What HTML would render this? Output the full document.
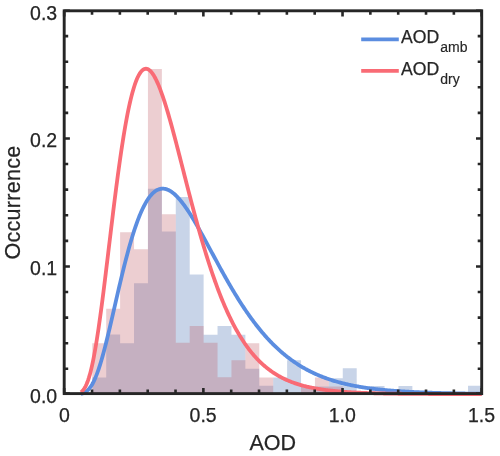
<!DOCTYPE html><html><head><meta charset="utf-8"><title>AOD histogram</title><style>html,body{margin:0;padding:0;background:#fff}svg{display:block}text{font-family:"Liberation Sans",Arial,Helvetica,sans-serif;fill:#262626;stroke:#262626;stroke-width:0.25px}</style></head><body>
<svg width="500" height="456" viewBox="0 0 500 456">
<rect width="500" height="456" fill="#fff"/>
<path d="M92.28 393.60L92.28 377.39L106.20 377.39L106.20 334.52L120.12 334.52L120.12 343.33L134.03 343.33L134.03 283.23L147.95 283.23L147.95 188.80L161.87 188.80L161.87 231.55L175.78 231.55L175.78 197.10L189.70 197.10L189.70 274.55L203.62 274.55L203.62 334.78L217.53 334.78L217.53 326.10L231.45 326.10L231.45 334.78L245.37 334.78L245.37 368.72L259.28 368.72L259.28 385.69L273.20 385.69L273.20 377.52L287.12 377.52L287.12 360.17L301.03 360.17L301.03 386.58L314.95 386.58L314.95 386.58L328.87 386.58L328.87 378.16L342.78 378.16L342.78 368.21L356.70 368.21L356.70 393.60ZM370.62 393.60L370.62 385.94L384.53 385.94L384.53 393.60ZM398.45 393.60L398.45 385.94L412.37 385.94L412.37 393.60ZM468.03 393.60L468.03 385.69L481.95 385.69L481.95 393.60Z" fill="rgb(72,112,178)" fill-opacity="0.3"/>
<path d="M92.28 393.60L92.28 343.33L106.20 343.33L106.20 308.75L120.12 308.75L120.12 232.19L134.03 232.19L134.03 249.16L147.95 249.16L147.95 68.99L161.87 68.99L161.87 214.32L175.78 214.32L175.78 342.69L189.70 342.69L189.70 326.10L203.62 326.10L203.62 342.69L217.53 342.69L217.53 377.14L231.45 377.14L231.45 360.17L245.37 360.17L245.37 343.20L259.28 343.20L259.28 377.52L273.20 377.52L273.20 393.60ZM301.03 393.60L301.03 386.58L314.95 386.58L314.95 377.52L328.87 377.52L328.87 386.58L342.78 386.58L342.78 393.60Z" fill="rgb(192,92,102)" fill-opacity="0.3"/>
<path d="M80.90 393.77 L81.70 393.60 L82.51 393.38 L83.31 393.10 L84.11 392.76 L84.92 392.35 L85.72 391.86 L86.52 391.29 L87.33 390.63 L88.13 389.88 L88.93 389.03 L89.74 388.07 L90.54 386.99 L91.34 385.78 L92.14 384.45 L92.95 383.00 L93.75 381.41 L94.55 379.70 L95.36 377.87 L96.16 375.90 L96.96 373.82 L97.77 371.61 L98.57 369.29 L99.37 366.86 L100.18 364.32 L100.98 361.68 L101.78 358.94 L102.59 356.11 L103.39 353.19 L104.19 350.19 L105.00 347.12 L105.80 343.98 L106.60 340.78 L107.41 337.52 L108.21 334.21 L109.01 330.85 L109.82 327.46 L110.62 324.04 L111.42 320.58 L112.23 317.11 L113.03 313.62 L113.83 310.12 L114.63 306.62 L115.44 303.11 L116.24 299.61 L117.04 296.12 L117.85 292.65 L118.65 289.19 L119.45 285.75 L120.26 282.34 L121.06 278.96 L121.86 275.61 L122.67 272.31 L123.47 269.04 L124.27 265.81 L125.08 262.64 L125.88 259.51 L126.68 256.43 L127.49 253.41 L128.29 250.45 L129.09 247.54 L129.90 244.70 L130.70 241.91 L131.50 239.19 L132.31 236.54 L133.11 233.96 L133.91 231.44 L134.71 228.99 L135.52 226.61 L136.32 224.31 L137.12 222.08 L137.93 219.92 L138.73 217.83 L139.53 215.81 L140.34 213.88 L141.14 212.01 L141.94 210.22 L142.75 208.50 L143.55 206.86 L144.35 205.30 L145.16 203.80 L145.96 202.38 L146.76 201.04 L147.57 199.77 L148.37 198.57 L149.17 197.44 L149.98 196.39 L150.78 195.41 L151.58 194.49 L152.39 193.65 L153.19 192.88 L153.99 192.17 L154.79 191.53 L155.60 190.96 L156.40 190.45 L157.20 190.01 L158.01 189.64 L158.81 189.32 L159.61 189.07 L160.42 188.87 L161.22 188.74 L162.02 188.67 L162.83 188.65 L163.63 188.69 L164.43 188.78 L165.24 188.93 L166.04 189.13 L166.84 189.39 L167.65 189.69 L168.45 190.05 L169.25 190.45 L170.06 190.90 L170.86 191.39 L171.66 191.93 L172.47 192.51 L173.27 193.14 L174.07 193.81 L174.88 194.51 L175.68 195.26 L176.48 196.04 L177.28 196.86 L178.09 197.72 L178.89 198.61 L179.69 199.53 L180.50 200.49 L181.30 201.47 L182.10 202.49 L182.91 203.54 L183.71 204.61 L184.51 205.71 L185.32 206.84 L186.12 207.99 L186.92 209.16 L187.73 210.36 L188.53 211.58 L189.33 212.82 L190.14 214.08 L190.94 215.36 L191.74 216.65 L192.55 217.97 L193.35 219.30 L194.15 220.64 L194.96 222.00 L195.76 223.37 L196.56 224.76 L197.36 226.16 L198.17 227.57 L198.97 228.98 L199.77 230.41 L200.58 231.85 L201.38 233.30 L202.18 234.75 L202.99 236.21 L203.79 237.68 L204.59 239.15 L205.40 240.62 L206.20 242.10 L207.00 243.59 L207.81 245.07 L208.61 246.56 L209.41 248.05 L210.22 249.54 L211.02 251.04 L211.82 252.53 L212.63 254.02 L213.43 255.51 L214.23 257.00 L215.04 258.49 L215.84 259.97 L216.64 261.46 L217.45 262.93 L218.25 264.41 L219.05 265.88 L219.85 267.35 L220.66 268.81 L221.46 270.27 L222.26 271.72 L223.07 273.17 L223.87 274.61 L224.67 276.04 L225.48 277.47 L226.28 278.89 L227.08 280.30 L227.89 281.70 L228.69 283.10 L229.49 284.49 L230.30 285.87 L231.10 287.24 L231.90 288.60 L232.71 289.96 L233.51 291.30 L234.31 292.64 L235.12 293.96 L235.92 295.28 L236.72 296.59 L237.53 297.88 L238.33 299.17 L239.13 300.45 L239.93 301.71 L240.74 302.97 L241.54 304.21 L242.34 305.45 L243.15 306.67 L243.95 307.88 L244.75 309.08 L245.56 310.27 L246.36 311.45 L247.16 312.62 L247.97 313.78 L248.77 314.93 L249.57 316.06 L250.38 317.18 L251.18 318.30 L251.98 319.40 L252.79 320.49 L253.59 321.56 L254.39 322.63 L255.20 323.68 L256.00 324.73 L256.80 325.76 L257.61 326.78 L258.41 327.79 L259.21 328.79 L260.02 329.77 L260.82 330.75 L261.62 331.71 L262.42 332.67 L263.23 333.61 L264.03 334.54 L264.83 335.46 L265.64 336.36 L266.44 337.26 L267.24 338.15 L268.05 339.02 L268.85 339.88 L269.65 340.74 L270.46 341.58 L271.26 342.41 L272.06 343.23 L272.87 344.04 L273.67 344.84 L274.47 345.63 L275.28 346.41 L276.08 347.18 L276.88 347.94 L277.69 348.68 L278.49 349.42 L279.29 350.15 L280.10 350.87 L280.90 351.58 L281.70 352.27 L282.50 352.96 L283.31 353.64 L284.11 354.31 L284.91 354.97 L285.72 355.62 L286.52 356.26 L287.32 356.89 L288.13 357.52 L288.93 358.13 L289.73 358.73 L290.54 359.33 L291.34 359.92 L292.14 360.50 L292.95 361.07 L293.75 361.63 L294.55 362.18 L295.36 362.72 L296.16 363.26 L296.96 363.79 L297.77 364.31 L298.57 364.82 L299.37 365.33 L300.18 365.82 L300.98 366.31 L301.78 366.79 L302.58 367.27 L303.39 367.74 L304.19 368.19 L304.99 368.65 L305.80 369.09 L306.60 369.53 L307.40 369.96 L308.21 370.38 L309.01 370.80 L309.81 371.21 L310.62 371.62 L311.42 372.01 L312.22 372.40 L313.03 372.79 L313.83 373.17 L314.63 373.54 L315.44 373.91 L316.24 374.27 L317.04 374.62 L317.85 374.97 L318.65 375.31 L319.45 375.65 L320.26 375.98 L321.06 376.30 L321.86 376.62 L322.67 376.94 L323.47 377.25 L324.27 377.55 L325.07 377.85 L325.88 378.14 L326.68 378.43 L327.48 378.72 L328.29 379.00 L329.09 379.27 L329.89 379.54 L330.70 379.80 L331.50 380.06 L332.30 380.32 L333.11 380.57 L333.91 380.82 L334.71 381.06 L335.52 381.30 L336.32 381.53 L337.12 381.76 L337.93 381.99 L338.73 382.21 L339.53 382.43 L340.34 382.64 L341.14 382.85 L341.94 383.06 L342.75 383.26 L343.55 383.46 L344.35 383.66 L345.15 383.85 L345.96 384.04 L346.76 384.22 L347.56 384.40 L348.37 384.58 L349.17 384.76 L349.97 384.93 L350.78 385.10 L351.58 385.27 L352.38 385.43 L353.19 385.59 L353.99 385.75 L354.79 385.90 L355.60 386.05 L356.40 386.20 L357.20 386.34 L358.01 386.49 L358.81 386.63 L359.61 386.77 L360.42 386.90 L361.22 387.03 L362.02 387.16 L362.83 387.29 L363.63 387.42 L364.43 387.54 L365.24 387.66 L366.04 387.78 L366.84 387.90 L367.64 388.01 L368.45 388.12 L369.25 388.23 L370.05 388.34 L370.86 388.45 L371.66 388.55 L372.46 388.65 L373.27 388.75 L374.07 388.85 L374.87 388.95 L375.68 389.04 L376.48 389.14 L377.28 389.23 L378.09 389.32 L378.89 389.41 L379.69 389.49 L380.50 389.58 L381.30 389.66 L382.10 389.74 L382.91 389.82 L383.71 389.90 L384.51 389.98 L385.32 390.05 L386.12 390.13 L386.92 390.20 L387.72 390.27 L388.53 390.34 L389.33 390.41 L390.13 390.48 L390.94 390.55 L391.74 390.61 L392.54 390.68 L393.35 390.74 L394.15 390.80 L394.95 390.86 L395.76 390.92 L396.56 390.98 L397.36 391.04 L398.17 391.10 L398.97 391.15 L399.77 391.21 L400.58 391.26 L401.38 391.31 L402.18 391.37 L402.99 391.42 L403.79 391.47 L404.59 391.52 L405.40 391.56 L406.20 391.61 L407.00 391.66 L407.81 391.70 L408.61 391.75 L409.41 391.79 L410.21 391.84 L411.02 391.88 L411.82 391.92 L412.62 391.96 L413.43 392.00 L414.23 392.04 L415.03 392.08 L415.84 392.12 L416.64 392.16 L417.44 392.19 L418.25 392.23 L419.05 392.27 L419.85 392.30 L420.66 392.33 L421.46 392.37 L422.26 392.40 L423.07 392.43 L423.87 392.47 L424.67 392.50 L425.48 392.53 L426.28 392.56 L427.08 392.59 L427.89 392.62 L428.69 392.65 L429.49 392.68 L430.29 392.70 L431.10 392.73 L431.90 392.76 L432.70 392.78 L433.51 392.81 L434.31 392.83 L435.11 392.86 L435.92 392.88 L436.72 392.91 L437.52 392.93 L438.33 392.95 L439.13 392.98 L439.93 393.00 L440.74 393.02 L441.54 393.04 L442.34 393.06 L443.15 393.08 L443.95 393.10 L444.75 393.12 L445.56 393.14 L446.36 393.16 L447.16 393.18 L447.97 393.20 L448.77 393.22 L449.57 393.24 L450.37 393.25 L451.18 393.27 L451.98 393.29 L452.78 393.30 L453.59 393.32 L454.39 393.34 L455.19 393.35 L456.00 393.37 L456.80 393.38 L457.60 393.40 L458.41 393.41 L459.21 393.43 L460.01 393.44 L460.82 393.45 L461.62 393.47 L462.42 393.48 L463.23 393.49 L464.03 393.51 L464.83 393.52 L465.64 393.53 L466.44 393.54 L467.24 393.55 L468.05 393.57 L468.85 393.58 L469.65 393.59 L470.46 393.60 L471.26 393.61 L472.06 393.62 L472.86 393.63 L473.67 393.64 L474.47 393.65 L475.27 393.66 L476.08 393.67 L476.88 393.68 L477.68 393.69 L478.49 393.69 L479.29 393.70 L480.09 393.71 L480.90 393.72 L481.70 393.73" fill="none" stroke="#5b8de0" stroke-width="3.8" stroke-linejoin="round"/>
<path d="M80.90 392.27 L81.70 391.63 L82.51 390.86 L83.31 389.94 L84.11 388.84 L84.92 387.55 L85.72 386.05 L86.52 384.32 L87.33 382.34 L88.13 380.13 L88.93 377.65 L89.74 374.91 L90.54 371.92 L91.34 368.65 L92.14 365.13 L92.95 361.35 L93.75 357.31 L94.55 353.02 L95.36 348.50 L96.16 343.74 L96.96 338.76 L97.77 333.57 L98.57 328.18 L99.37 322.60 L100.18 316.85 L100.98 310.95 L101.78 304.89 L102.59 298.71 L103.39 292.41 L104.19 286.01 L105.00 279.52 L105.80 272.97 L106.60 266.35 L107.41 259.69 L108.21 253.01 L109.01 246.31 L109.82 239.61 L110.62 232.93 L111.42 226.27 L112.23 219.65 L113.03 213.08 L113.83 206.58 L114.63 200.14 L115.44 193.79 L116.24 187.54 L117.04 181.39 L117.85 175.35 L118.65 169.43 L119.45 163.64 L120.26 157.99 L121.06 152.48 L121.86 147.12 L122.67 141.92 L123.47 136.87 L124.27 132.00 L125.08 127.29 L125.88 122.75 L126.68 118.40 L127.49 114.22 L128.29 110.22 L129.09 106.41 L129.90 102.78 L130.70 99.34 L131.50 96.09 L132.31 93.03 L133.11 90.15 L133.91 87.47 L134.71 84.97 L135.52 82.65 L136.32 80.53 L137.12 78.58 L137.93 76.82 L138.73 75.25 L139.53 73.85 L140.34 72.62 L141.14 71.57 L141.94 70.69 L142.75 69.98 L143.55 69.44 L144.35 69.06 L145.16 68.83 L145.96 68.76 L146.76 68.85 L147.57 69.08 L148.37 69.46 L149.17 69.98 L149.98 70.63 L150.78 71.42 L151.58 72.34 L152.39 73.39 L153.19 74.56 L153.99 75.84 L154.79 77.24 L155.60 78.75 L156.40 80.36 L157.20 82.08 L158.01 83.89 L158.81 85.80 L159.61 87.80 L160.42 89.88 L161.22 92.05 L162.02 94.29 L162.83 96.61 L163.63 99.00 L164.43 101.46 L165.24 103.98 L166.04 106.56 L166.84 109.20 L167.65 111.89 L168.45 114.64 L169.25 117.43 L170.06 120.26 L170.86 123.13 L171.66 126.04 L172.47 128.99 L173.27 131.96 L174.07 134.97 L174.88 138.00 L175.68 141.05 L176.48 144.12 L177.28 147.21 L178.09 150.32 L178.89 153.44 L179.69 156.57 L180.50 159.71 L181.30 162.85 L182.10 166.00 L182.91 169.15 L183.71 172.30 L184.51 175.45 L185.32 178.59 L186.12 181.73 L186.92 184.86 L187.73 187.98 L188.53 191.10 L189.33 194.20 L190.14 197.29 L190.94 200.36 L191.74 203.41 L192.55 206.45 L193.35 209.48 L194.15 212.48 L194.96 215.46 L195.76 218.42 L196.56 221.36 L197.36 224.27 L198.17 227.16 L198.97 230.03 L199.77 232.86 L200.58 235.68 L201.38 238.46 L202.18 241.22 L202.99 243.95 L203.79 246.65 L204.59 249.32 L205.40 251.96 L206.20 254.58 L207.00 257.16 L207.81 259.71 L208.61 262.23 L209.41 264.72 L210.22 267.17 L211.02 269.60 L211.82 271.99 L212.63 274.35 L213.43 276.68 L214.23 278.98 L215.04 281.24 L215.84 283.47 L216.64 285.67 L217.45 287.84 L218.25 289.97 L219.05 292.08 L219.85 294.15 L220.66 296.19 L221.46 298.19 L222.26 300.17 L223.07 302.11 L223.87 304.02 L224.67 305.90 L225.48 307.75 L226.28 309.57 L227.08 311.36 L227.89 313.11 L228.69 314.84 L229.49 316.54 L230.30 318.20 L231.10 319.84 L231.90 321.45 L232.71 323.03 L233.51 324.58 L234.31 326.10 L235.12 327.60 L235.92 329.06 L236.72 330.50 L237.53 331.91 L238.33 333.30 L239.13 334.66 L239.93 335.99 L240.74 337.30 L241.54 338.58 L242.34 339.84 L243.15 341.07 L243.95 342.28 L244.75 343.46 L245.56 344.62 L246.36 345.76 L247.16 346.87 L247.97 347.96 L248.77 349.03 L249.57 350.07 L250.38 351.10 L251.18 352.10 L251.98 353.08 L252.79 354.05 L253.59 354.99 L254.39 355.91 L255.20 356.81 L256.00 357.69 L256.80 358.56 L257.61 359.40 L258.41 360.23 L259.21 361.04 L260.02 361.83 L260.82 362.60 L261.62 363.36 L262.42 364.10 L263.23 364.82 L264.03 365.53 L264.83 366.22 L265.64 366.89 L266.44 367.56 L267.24 368.20 L268.05 368.83 L268.85 369.45 L269.65 370.05 L270.46 370.64 L271.26 371.21 L272.06 371.78 L272.87 372.32 L273.67 372.86 L274.47 373.38 L275.28 373.90 L276.08 374.39 L276.88 374.88 L277.69 375.36 L278.49 375.82 L279.29 376.28 L280.10 376.72 L280.90 377.15 L281.70 377.57 L282.50 377.99 L283.31 378.39 L284.11 378.78 L284.91 379.16 L285.72 379.54 L286.52 379.90 L287.32 380.26 L288.13 380.60 L288.93 380.94 L289.73 381.27 L290.54 381.59 L291.34 381.91 L292.14 382.21 L292.95 382.51 L293.75 382.80 L294.55 383.09 L295.36 383.37 L296.16 383.64 L296.96 383.90 L297.77 384.16 L298.57 384.41 L299.37 384.65 L300.18 384.89 L300.98 385.12 L301.78 385.35 L302.58 385.57 L303.39 385.78 L304.19 385.99 L304.99 386.19 L305.80 386.39 L306.60 386.59 L307.40 386.78 L308.21 386.96 L309.01 387.14 L309.81 387.31 L310.62 387.48 L311.42 387.65 L312.22 387.81 L313.03 387.97 L313.83 388.12 L314.63 388.27 L315.44 388.42 L316.24 388.56 L317.04 388.70 L317.85 388.83 L318.65 388.96 L319.45 389.09 L320.26 389.22 L321.06 389.34 L321.86 389.46 L322.67 389.57 L323.47 389.69 L324.27 389.80 L325.07 389.90 L325.88 390.01 L326.68 390.11 L327.48 390.21 L328.29 390.31 L329.09 390.40 L329.89 390.49 L330.70 390.58 L331.50 390.67 L332.30 390.75 L333.11 390.84 L333.91 390.92 L334.71 391.00 L335.52 391.08 L336.32 391.15 L337.12 391.23 L337.93 391.30 L338.73 391.37 L339.53 391.44 L340.34 391.50 L341.14 391.57 L341.94 391.63 L342.75 391.69 L343.55 391.75 L344.35 391.81 L345.15 391.87 L345.96 391.93 L346.76 391.98 L347.56 392.04 L348.37 392.09 L349.17 392.14 L349.97 392.19 L350.78 392.24 L351.58 392.29 L352.38 392.33 L353.19 392.38 L353.99 392.42 L354.79 392.47 L355.60 392.51 L356.40 392.55 L357.20 392.59 L358.01 392.63 L358.81 392.67 L359.61 392.71 L360.42 392.74 L361.22 392.78 L362.02 392.81 L362.83 392.85 L363.63 392.88 L364.43 392.91 L365.24 392.94 L366.04 392.97 L366.84 393.00 L367.64 393.03 L368.45 393.06 L369.25 393.09 L370.05 393.12 L370.86 393.14 L371.66 393.17 L372.46 393.19 L373.27 393.22 L374.07 393.24 L374.87 393.26 L375.68 393.29 L376.48 393.31 L377.28 393.33 L378.09 393.35 L378.89 393.37 L379.69 393.39 L380.50 393.41 L381.30 393.43 L382.10 393.45 L382.91 393.47 L383.71 393.48 L384.51 393.50 L385.32 393.52 L386.12 393.53 L386.92 393.55 L387.72 393.57 L388.53 393.58 L389.33 393.59 L390.13 393.61 L390.94 393.62 L391.74 393.64 L392.54 393.65 L393.35 393.66 L394.15 393.67 L394.95 393.69 L395.76 393.70 L396.56 393.71 L397.36 393.72 L398.17 393.73 L398.97 393.74 L399.77 393.75 L400.58 393.76 L401.38 393.77 L402.18 393.78 L402.99 393.79 L403.79 393.80 L404.59 393.81 L405.40 393.82 L406.20 393.82 L407.00 393.83 L407.81 393.84 L408.61 393.85 L409.41 393.85 L410.21 393.86 L411.02 393.87 L411.82 393.87 L412.62 393.88 L413.43 393.89 L414.23 393.89 L415.03 393.90 L415.84 393.90 L416.64 393.91 L417.44 393.92 L418.25 393.92 L419.05 393.93 L419.85 393.93 L420.66 393.94 L421.46 393.94 L422.26 393.95 L423.07 393.95 L423.87 393.95 L424.67 393.96 L425.48 393.96 L426.28 393.97 L427.08 393.97 L427.89 393.97 L428.69 393.98 L429.49 393.98 L430.29 393.99 L431.10 393.99 L431.90 393.99 L432.70 394.00 L433.51 394.00 L434.31 394.00 L435.11 394.00 L435.92 394.01 L436.72 394.01 L437.52 394.01 L438.33 394.01 L439.13 394.02 L439.93 394.02 L440.74 394.02 L441.54 394.02 L442.34 394.03 L443.15 394.03 L443.95 394.03 L444.75 394.03 L445.56 394.03 L446.36 394.04 L447.16 394.04 L447.97 394.04 L448.77 394.04 L449.57 394.04 L450.37 394.05 L451.18 394.05 L451.98 394.05 L452.78 394.05 L453.59 394.05 L454.39 394.05 L455.19 394.05 L456.00 394.06 L456.80 394.06 L457.60 394.06 L458.41 394.06 L459.21 394.06 L460.01 394.06 L460.82 394.06 L461.62 394.06 L462.42 394.07 L463.23 394.07 L464.03 394.07 L464.83 394.07 L465.64 394.07 L466.44 394.07 L467.24 394.07 L468.05 394.07 L468.85 394.07 L469.65 394.07 L470.46 394.07 L471.26 394.08 L472.06 394.08 L472.86 394.08 L473.67 394.08 L474.47 394.08 L475.27 394.08 L476.08 394.08 L476.88 394.08 L477.68 394.08 L478.49 394.08 L479.29 394.08 L480.09 394.08 L480.90 394.08 L481.70 394.08" fill="none" stroke="#f96b75" stroke-width="3.8" stroke-linejoin="round"/>
<path d="M64.20 393.60v-5.70M64.20 10.80v5.70M92.03 393.60v-4.00M92.03 10.80v4.00M119.87 393.60v-4.00M119.87 10.80v4.00M147.70 393.60v-4.00M147.70 10.80v4.00M175.53 393.60v-4.00M175.53 10.80v4.00M203.37 393.60v-5.70M203.37 10.80v5.70M231.20 393.60v-4.00M231.20 10.80v4.00M259.03 393.60v-4.00M259.03 10.80v4.00M286.87 393.60v-4.00M286.87 10.80v4.00M314.70 393.60v-4.00M314.70 10.80v4.00M342.53 393.60v-5.70M342.53 10.80v5.70M370.37 393.60v-4.00M370.37 10.80v4.00M398.20 393.60v-4.00M398.20 10.80v4.00M426.03 393.60v-4.00M426.03 10.80v4.00M453.87 393.60v-4.00M453.87 10.80v4.00M481.70 393.60v-5.70M481.70 10.80v5.70M64.20 393.60h5.70M481.70 393.60h-5.70M64.20 368.81h4.00M481.70 368.81h-4.00M64.20 343.21h4.00M481.70 343.21h-4.00M64.20 317.62h4.00M481.70 317.62h-4.00M64.20 292.02h4.00M481.70 292.02h-4.00M64.20 266.43h5.70M481.70 266.43h-5.70M64.20 240.84h4.00M481.70 240.84h-4.00M64.20 215.24h4.00M481.70 215.24h-4.00M64.20 189.65h4.00M481.70 189.65h-4.00M64.20 164.05h4.00M481.70 164.05h-4.00M64.20 138.46h5.70M481.70 138.46h-5.70M64.20 112.87h4.00M481.70 112.87h-4.00M64.20 87.27h4.00M481.70 87.27h-4.00M64.20 61.68h4.00M481.70 61.68h-4.00M64.20 36.08h4.00M481.70 36.08h-4.00M64.20 10.80h5.70M481.70 10.80h-5.70" stroke="#262626" stroke-width="2.6" fill="none"/>
<rect x="64.20" y="10.80" width="417.50" height="382.80" fill="none" stroke="#262626" stroke-width="2.9"/>
<text x="64.50" y="421.70" font-size="19.5" text-anchor="middle">0</text>
<text x="203.17" y="421.70" font-size="19.5" text-anchor="middle">0.5</text>
<text x="342.33" y="421.70" font-size="19.5" text-anchor="middle">1.0</text>
<text x="481.50" y="421.70" font-size="19.5" text-anchor="middle">1.5</text>
<text x="57.20" y="402.60" font-size="19.5" text-anchor="end">0.0</text>
<text x="57.20" y="275.00" font-size="19.5" text-anchor="end">0.1</text>
<text x="57.20" y="147.40" font-size="19.5" text-anchor="end">0.2</text>
<text x="57.20" y="19.80" font-size="19.5" text-anchor="end">0.3</text>
<text x="272.70" y="449.80" font-size="21.5" text-anchor="middle">AOD</text>
<text transform="translate(20.4 202.5) rotate(-90)" font-size="21.5" text-anchor="middle" letter-spacing="0.3">Occurrence</text>
<path d="M361.2 39.3H398.8" stroke="#5b8de0" stroke-width="3.8"/>
<text x="401" y="42.7" font-size="17.6">AOD<tspan dx="1.2" dy="8.8" font-size="14" stroke-width="0.15">amb</tspan></text>
<path d="M361.2 70.8H398.8" stroke="#f96b75" stroke-width="3.8"/>
<text x="401" y="74.9" font-size="17.6">AOD<tspan dx="1.2" dy="8.8" font-size="14" stroke-width="0.15">dry</tspan></text>
</svg></body></html>
